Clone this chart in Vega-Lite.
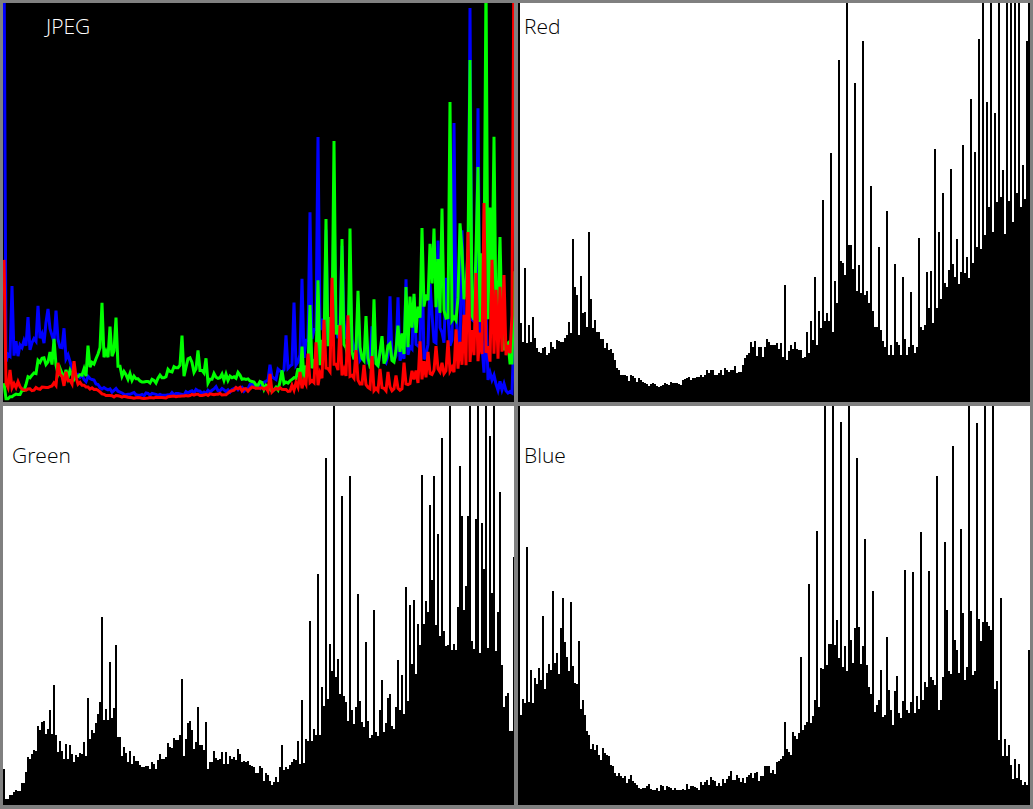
{
"$schema": "https://vega.github.io/schema/vega-lite/v6.json",
"background": "#808080",
"padding": {"left": 3, "top": 3, "right": 3, "bottom": 4},
"config": {"view": {"stroke": null}, "scale": {"continuousPadding": 0}},
"data": {"values": [
{"i":0,"r":592,"g":36,"b":1000},{"i":1,"r":79,"g":6,"b":90},{"i":2,"r":60,"g":6,"b":106},{"i":3,"r":134,"g":10,"b":102},
{"i":4,"r":59,"g":10,"b":258},{"i":5,"r":77,"g":13,"b":103},{"i":6,"r":60,"g":15,"b":135},{"i":7,"r":85,"g":14,"b":102},
{"i":8,"r":64,"g":14,"b":127},{"i":9,"r":54,"g":22,"b":121},{"i":10,"r":50,"g":22,"b":137},{"i":11,"r":49,"g":33,"b":125},
{"i":12,"r":54,"g":48,"b":189},{"i":13,"r":55,"g":46,"b":116},{"i":14,"r":47,"g":51,"b":132},{"i":15,"r":49,"g":55,"b":141},
{"i":16,"r":60,"g":54,"b":135},{"i":17,"r":55,"g":79,"b":214},{"i":18,"r":53,"g":75,"b":142},{"i":19,"r":62,"g":83,"b":152},
{"i":20,"r":61,"g":84,"b":131},{"i":21,"r":60,"g":71,"b":177},{"i":22,"r":60,"g":76,"b":207},{"i":23,"r":64,"g":95,"b":163},
{"i":24,"r":67,"g":71,"b":148},{"i":25,"r":80,"g":120,"b":134},{"i":26,"r":69,"g":70,"b":203},{"i":27,"r":163,"g":53,"b":139},
{"i":28,"r":115,"g":64,"b":122},{"i":29,"r":107,"g":54,"b":121},{"i":30,"r":67,"g":46,"b":164},{"i":31,"r":126,"g":61,"b":96},
{"i":32,"r":89,"g":46,"b":105},{"i":33,"r":90,"g":60,"b":90},{"i":34,"r":75,"g":51,"b":74},{"i":35,"r":170,"g":43,"b":70},
{"i":36,"r":103,"g":50,"b":56},{"i":37,"r":74,"g":48,"b":61},{"i":38,"r":82,"g":52,"b":55},{"i":39,"r":70,"g":51,"b":60},
{"i":40,"r":70,"g":63,"b":50},{"i":41,"r":63,"g":49,"b":45},{"i":42,"r":63,"g":107,"b":57},{"i":43,"r":54,"g":66,"b":52},
{"i":44,"r":59,"g":75,"b":50},{"i":45,"r":52,"g":72,"b":49},{"i":46,"r":53,"g":82,"b":40},{"i":47,"r":49,"g":91,"b":39},
{"i":48,"r":42,"g":103,"b":32},{"i":49,"r":34,"g":188,"b":29},{"i":50,"r":32,"g":85,"b":32},{"i":51,"r":27,"g":96,"b":29},
{"i":52,"r":27,"g":85,"b":27},{"i":53,"r":27,"g":143,"b":29},{"i":54,"r":26,"g":87,"b":22},{"i":55,"r":21,"g":97,"b":26},
{"i":56,"r":27,"g":160,"b":30},{"i":57,"r":26,"g":68,"b":24},{"i":58,"r":24,"g":68,"b":22},{"i":59,"r":20,"g":49,"b":20},
{"i":60,"r":24,"g":58,"b":17},{"i":61,"r":22,"g":52,"b":16},{"i":62,"r":20,"g":43,"b":17},{"i":63,"r":19,"g":54,"b":17},
{"i":64,"r":18,"g":41,"b":19},{"i":65,"r":16,"g":49,"b":21},{"i":66,"r":18,"g":44,"b":16},{"i":67,"r":19,"g":44,"b":15},
{"i":68,"r":18,"g":40,"b":15},{"i":69,"r":16,"g":38,"b":17},{"i":70,"r":15,"g":38,"b":14},{"i":71,"r":16,"g":39,"b":20},
{"i":72,"r":17,"g":39,"b":19},{"i":73,"r":19,"g":36,"b":15},{"i":74,"r":18,"g":43,"b":19},{"i":75,"r":17,"g":41,"b":18},
{"i":76,"r":20,"g":36,"b":17},{"i":77,"r":19,"g":45,"b":15},{"i":78,"r":19,"g":51,"b":17},{"i":79,"r":19,"g":46,"b":15},
{"i":80,"r":18,"g":46,"b":15},{"i":81,"r":17,"g":48,"b":15},{"i":82,"r":22,"g":62,"b":16},{"i":83,"r":23,"g":58,"b":15},
{"i":84,"r":24,"g":57,"b":21},{"i":85,"r":25,"g":67,"b":16},{"i":86,"r":22,"g":65,"b":19},{"i":87,"r":24,"g":65,"b":19},
{"i":88,"r":24,"g":70,"b":18},{"i":89,"r":25,"g":126,"b":17},{"i":90,"r":25,"g":49,"b":15},{"i":91,"r":27,"g":66,"b":23},
{"i":92,"r":25,"g":82,"b":20},{"i":93,"r":27,"g":84,"b":23},{"i":94,"r":32,"g":75,"b":25},{"i":95,"r":29,"g":56,"b":20},
{"i":96,"r":32,"g":63,"b":28},{"i":97,"r":32,"g":98,"b":25},{"i":98,"r":27,"g":60,"b":24},{"i":99,"r":27,"g":60,"b":19},
{"i":100,"r":29,"g":55,"b":22},{"i":101,"r":32,"g":83,"b":19},{"i":102,"r":27,"g":36,"b":26},{"i":103,"r":34,"g":43,"b":22},
{"i":104,"r":32,"g":43,"b":26},{"i":105,"r":30,"g":54,"b":29},{"i":106,"r":32,"g":47,"b":34},{"i":107,"r":32,"g":45,"b":25},
{"i":108,"r":36,"g":46,"b":25},{"i":109,"r":29,"g":53,"b":30},{"i":110,"r":30,"g":41,"b":27},{"i":111,"r":30,"g":53,"b":23},
{"i":112,"r":37,"g":41,"b":27},{"i":113,"r":44,"g":49,"b":22},{"i":114,"r":47,"g":46,"b":28},{"i":115,"r":49,"g":48,"b":30},
{"i":116,"r":60,"g":45,"b":32},{"i":117,"r":55,"g":56,"b":27},{"i":118,"r":61,"g":51,"b":32},{"i":119,"r":46,"g":43,"b":33},
{"i":120,"r":55,"g":44,"b":24},{"i":121,"r":55,"g":43,"b":29},{"i":122,"r":45,"g":44,"b":29},{"i":123,"r":55,"g":40,"b":39},
{"i":124,"r":63,"g":39,"b":39},{"i":125,"r":60,"g":38,"b":39},{"i":126,"r":57,"g":32,"b":32},{"i":127,"r":57,"g":32,"b":35},
{"i":128,"r":57,"g":39,"b":31},{"i":129,"r":59,"g":37,"b":43},{"i":130,"r":53,"g":24,"b":44},{"i":131,"r":59,"g":32,"b":46},
{"i":132,"r":45,"g":30,"b":49},{"i":133,"r":117,"g":24,"b":83},{"i":134,"r":42,"g":20,"b":56},{"i":135,"r":51,"g":23,"b":53},
{"i":136,"r":57,"g":28,"b":50},{"i":137,"r":53,"g":23,"b":73},{"i":138,"r":60,"g":38,"b":69},{"i":139,"r":53,"g":60,"b":66},
{"i":140,"r":52,"g":35,"b":72},{"i":141,"r":52,"g":38,"b":148},{"i":142,"r":44,"g":36,"b":75},{"i":143,"r":45,"g":40,"b":80},
{"i":144,"r":70,"g":43,"b":83},{"i":145,"r":49,"g":46,"b":221},{"i":146,"r":81,"g":45,"b":82},{"i":147,"r":62,"g":64,"b":89},
{"i":148,"r":125,"g":41,"b":105},{"i":149,"r":57,"g":105,"b":274},{"i":150,"r":91,"g":42,"b":98},{"i":151,"r":74,"g":66,"b":137},
{"i":152,"r":202,"g":64,"b":136},{"i":153,"r":81,"g":184,"b":422},{"i":154,"r":89,"g":64,"b":140},{"i":155,"r":81,"g":76,"b":161},
{"i":156,"r":249,"g":70,"b":161},{"i":157,"r":70,"g":231,"b":589},{"i":158,"r":121,"g":70,"b":160},{"i":159,"r":99,"g":118,"b":185},
{"i":160,"r":342,"g":99,"b":147},{"i":161,"r":141,"g":347,"b":383},{"i":162,"r":139,"g":106,"b":138},{"i":163,"r":127,"g":161,"b":159},
{"i":164,"r":517,"g":134,"b":134},{"i":165,"r":157,"g":495,"b":450},{"i":166,"r":157,"g":128,"b":165},{"i":167,"r":133,"g":146,"b":142},
{"i":168,"r":319,"g":111,"b":177},{"i":169,"r":111,"g":309,"b":347},{"i":170,"r":137,"g":109,"b":178},{"i":171,"r":109,"g":103,"b":141},
{"i":172,"r":361,"g":84,"b":159},{"i":173,"r":107,"g":329,"b":266},{"i":174,"r":111,"g":95,"b":140},{"i":175,"r":99,"g":81,"b":118},
{"i":176,"r":216,"g":98,"b":111},{"i":177,"r":91,"g":211,"b":214},{"i":178,"r":75,"g":104,"b":93},{"i":179,"r":75,"g":83,"b":100},
{"i":180,"r":155,"g":78,"b":105},{"i":181,"r":72,"g":163,"b":135},{"i":182,"r":61,"g":84,"b":88},{"i":183,"r":55,"g":67,"b":90},
{"i":184,"r":191,"g":70,"b":168},{"i":185,"r":47,"g":195,"b":115},{"i":186,"r":57,"g":73,"b":95},{"i":187,"r":47,"g":69,"b":80},
{"i":188,"r":138,"g":95,"b":114},{"i":189,"r":60,"g":125,"b":129},{"i":190,"r":57,"g":73,"b":92},{"i":191,"r":47,"g":82,"b":87},
{"i":192,"r":125,"g":107,"b":104},{"i":193,"r":63,"g":111,"b":235},{"i":194,"r":47,"g":79,"b":95},{"i":195,"r":55,"g":76,"b":92},
{"i":196,"r":110,"g":98,"b":103},{"i":197,"r":57,"g":145,"b":233},{"i":198,"r":49,"g":95,"b":92},{"i":199,"r":55,"g":130,"b":109},
{"i":200,"r":164,"g":91,"b":96},{"i":201,"r":75,"g":218,"b":273},{"i":202,"r":72,"g":104,"b":105},{"i":203,"r":77,"g":200,"b":123},
{"i":204,"r":130,"g":141,"b":118},{"i":205,"r":94,"g":205,"b":234},{"i":206,"r":131,"g":131,"b":128},{"i":207,"r":79,"g":181,"b":125},
{"i":208,"r":253,"g":160,"b":120},{"i":209,"r":94,"g":330,"b":329},{"i":210,"r":170,"g":181,"b":95},{"i":211,"r":103,"g":204,"b":105},
{"i":212,"r":209,"g":193,"b":128},{"i":213,"r":119,"g":300,"b":263},{"i":214,"r":115,"g":225,"b":195},{"i":215,"r":132,"g":329,"b":134},
{"i":216,"r":233,"g":180,"b":131},{"i":217,"r":138,"g":271,"b":359},{"i":218,"r":125,"g":169,"b":165},{"i":219,"r":163,"g":367,"b":155},
{"i":220,"r":118,"g":174,"b":132},{"i":221,"r":130,"g":159,"b":276},{"i":222,"r":257,"g":160,"b":192},{"i":223,"r":129,"g":569,"b":125},
{"i":224,"r":145,"g":155,"b":138},{"i":225,"r":124,"g":161,"b":620},{"i":226,"r":303,"g":155,"b":194},{"i":227,"r":139,"g":198,"b":130},
{"i":228,"r":250,"g":339,"b":134},{"i":229,"r":155,"g":289,"b":382},{"i":230,"r":363,"g":195,"b":186},{"i":231,"r":153,"g":219,"b":164},
{"i":232,"r":708,"g":289,"b":183},{"i":233,"r":167,"g":649,"b":876},{"i":234,"r":300,"g":164,"b":183},{"i":235,"r":195,"g":156,"b":179},
{"i":236,"r":537,"g":286,"b":175},{"i":237,"r":170,"g":446,"b":653},{"i":238,"r":289,"g":152,"b":116},{"i":239,"r":200,"g":282,"b":124},
{"i":240,"r":829,"g":236,"b":65},{"i":241,"r":205,"g":800,"b":207},{"i":242,"r":232,"g":157,"b":49},{"i":243,"r":168,"g":369,"b":66},
{"i":244,"r":592,"g":212,"b":49},{"i":245,"r":201,"g":503,"b":60},{"i":246,"r":467,"g":154,"b":40},{"i":247,"r":180,"g":193,"b":26},
{"i":248,"r":480,"g":313,"b":46},{"i":249,"r":209,"g":140,"b":27},{"i":250,"r":529,"g":98,"b":41},{"i":251,"r":195,"g":109,"b":25},
{"i":252,"r":237,"g":112,"b":20},{"i":253,"r":203,"g":74,"b":23},{"i":254,"r":361,"g":74,"b":20},{"i":255,"r":1900,"g":248,"b":155}
]},
"spacing": 4,
"vconcat": [
{"spacing": 4, "hconcat": [
 {"width": 511, "height": 399, "view": {"fill": "black", "stroke": null},
  "layer": [
   {"mark": {"type": "line", "color": "#0000ff", "strokeWidth": 3, "clip": true},
    "encoding": {"x": {"field": "i", "type": "quantitative", "scale": {"domain": [-0.5, 255.5], "range": [0, 512], "nice": false, "zero": false, "padding": 0}, "axis": null},
                 "y": {"field": "b", "type": "quantitative", "scale": {"domain": [0, 887], "nice": false}, "axis": null}}},
   {"mark": {"type": "line", "color": "#00ff00", "strokeWidth": 3, "clip": true},
    "encoding": {"x": {"field": "i", "type": "quantitative", "axis": null},
                 "y": {"field": "g", "type": "quantitative", "scale": {"domain": [0, 757], "nice": false}, "axis": null}}},
   {"mark": {"type": "line", "color": "#ff0000", "strokeWidth": 3, "clip": true},
    "encoding": {"x": {"field": "i", "type": "quantitative", "axis": null},
                 "y": {"field": "r", "type": "quantitative", "scale": {"domain": [0, 1662], "nice": false}, "axis": null}}},
   {"data": {"values": [{"label": "JPEG"}]},
    "mark": {"type": "text", "color": "white", "font": "Open Sans", "fontSize": 21, "fontWeight": 300, "align": "left", "baseline": "alphabetic"},
    "encoding": {"text": {"field": "label"}, "x": {"datum": 21, "type": "quantitative"},
                 "y": {"datum": 368, "type": "quantitative", "scale": {"domain": [0, 399], "nice": false}, "axis": null}}}
  ],
  "resolve": {"scale": {"y": "independent"}}},
 {"width": 512, "height": 399, "view": {"fill": "white", "stroke": null},
  "layer": [
   {"mark": {"type": "bar", "color": "black", "width": 2, "clip": true},
    "encoding": {"x": {"field": "i", "type": "quantitative", "scale": {"domain": [-0.5, 255.5], "range": [0, 512], "nice": false, "zero": false, "padding": 0}, "axis": null},
                 "y": {"field": "r", "type": "quantitative", "scale": {"domain": [0, 399], "nice": false}, "axis": null}}},
   {"data": {"values": [{"label": "Red"}]},
    "mark": {"type": "text", "color": "black", "font": "Open Sans", "fontSize": 21, "fontWeight": 300, "align": "left", "baseline": "alphabetic"},
    "encoding": {"text": {"field": "label"}, "x": {"datum": 2.5, "type": "quantitative"}, "y": {"datum": 368, "type": "quantitative"}}}
  ]}
]},
{"spacing": 4, "hconcat": [
 {"width": 511, "height": 399, "view": {"fill": "white", "stroke": null},
  "layer": [
   {"mark": {"type": "bar", "color": "black", "width": 2, "clip": true},
    "encoding": {"x": {"field": "i", "type": "quantitative", "scale": {"domain": [-0.5, 255.5], "range": [0, 512], "nice": false, "zero": false, "padding": 0}, "axis": null},
                 "y": {"field": "g", "type": "quantitative", "scale": {"domain": [0, 399], "nice": false}, "axis": null}}},
   {"data": {"values": [{"label": "Green"}]},
    "mark": {"type": "text", "color": "black", "font": "Open Sans", "fontSize": 21, "fontWeight": 300, "align": "left", "baseline": "alphabetic"},
    "encoding": {"text": {"field": "label"}, "x": {"datum": 4, "type": "quantitative"}, "y": {"datum": 342, "type": "quantitative"}}}
  ]},
 {"width": 512, "height": 399, "view": {"fill": "white", "stroke": null},
  "layer": [
   {"mark": {"type": "bar", "color": "black", "width": 2, "clip": true},
    "encoding": {"x": {"field": "i", "type": "quantitative", "scale": {"domain": [-0.5, 255.5], "range": [0, 512], "nice": false, "zero": false, "padding": 0}, "axis": null},
                 "y": {"field": "b", "type": "quantitative", "scale": {"domain": [0, 399], "nice": false}, "axis": null}}},
   {"data": {"values": [{"label": "Blue"}]},
    "mark": {"type": "text", "color": "black", "font": "Open Sans", "fontSize": 21, "fontWeight": 300, "align": "left", "baseline": "alphabetic"},
    "encoding": {"text": {"field": "label"}, "x": {"datum": 2.5, "type": "quantitative"}, "y": {"datum": 342, "type": "quantitative"}}}
  ]}
]}
]
}
